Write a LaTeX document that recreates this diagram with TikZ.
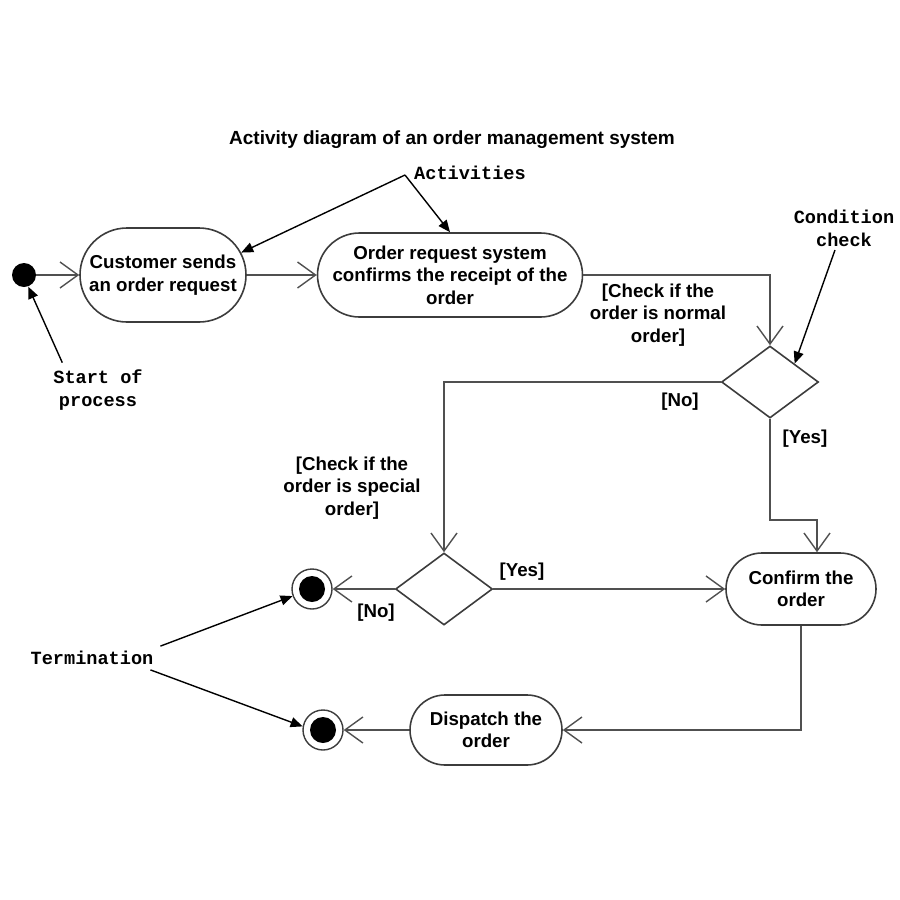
\documentclass[tikz,border=0pt]{standalone}
\usepackage{fontspec}
\setmainfont{Liberation Sans}
\setmonofont{Liberation Mono}
\usetikzlibrary{arrows.meta,shapes.geometric,shapes.misc}
\definecolor{flowgrey}{RGB}{80,80,80}
\definecolor{edgegrey}{RGB}{60,60,60}

\begin{document}
\begin{tikzpicture}[
    x=0.5pt,
    y=-0.5pt,
    activity/.style={
      rounded rectangle,
      draw=edgegrey,
      line width=0.8pt,
      align=center,
      inner sep=0pt,
      font=\fontsize{9.35}{11.3}\selectfont\bfseries
    },
    decision/.style={
      diamond,
      draw=edgegrey,
      line width=0.8pt,
      inner sep=0pt,
      minimum width=48.5pt,
      minimum height=36pt
    },
    finalnode/.style={
      circle,
      draw=edgegrey,
      line width=0.7pt,
      minimum size=20pt,
      inner sep=0pt,
      path picture={\fill (path picture bounding box.center) circle (6.5pt);}
    },
    guard/.style={
      align=center,
      font=\fontsize{9.35}{11.3}\selectfont\bfseries
    },
    remark/.style={
      align=center,
      font=\fontsize{9.3}{11.5}\selectfont\ttfamily\bfseries
    },
    flow/.style={
      draw=flowgrey,
      line width=0.8pt,
      -{Straight Barb[length=9pt,width=13pt,line width=0.7pt]}
    },
    pointer/.style={
      draw=black,
      line width=0.7pt,
      -{Triangle[length=6pt,width=5pt]}
    }
]
\useasboundingbox (0,0) rectangle (900,900);

% Title
\node[font=\fontsize{9.5}{11}\selectfont\bfseries] (title) at (452,140)
  {Activity diagram of an order management system};

% Activities and control nodes
\node[circle,fill=black,inner sep=0pt,minimum size=12pt] (start) at (24,275) {};
\node[activity,minimum width=83pt,minimum height=47pt] (cust) at (163,275)
  {Customer sends\\an order request};
\node[activity,minimum width=132.5pt,minimum height=42pt] (confirmreq) at (450,275)
  {Order request system\\confirms the receipt of the\\order};
\node[decision] (normal) at (770,382) {};
\node[decision] (special) at (444,589) {};
\node[activity,minimum width=75pt,minimum height=36pt] (confirm) at (801,589)
  {Confirm the\\order};
\node[activity,minimum width=76pt,minimum height=35pt] (dispatch) at (486,730)
  {Dispatch the\\order};
\node[finalnode] (end1) at (312,589) {};
\node[finalnode] (end2) at (323,730) {};

% Control flow
\coordinate (yesbend) at (817,520);
\draw[flow] (start) -- (cust);
\draw[flow] (cust) -- (confirmreq);
\draw[flow] (confirmreq.east) -| (normal.north);
\draw[flow] (normal.west) -| (special.north);
\draw[flow] (normal.south) |- (yesbend) -- (yesbend |- confirm.north);
\draw[flow] (special.west) -- (end1);
\draw[flow] (special.east) -- (confirm.west);
\draw[flow] (confirm.south) |- (dispatch.east);
\draw[flow] (dispatch.west) -- (end2);

% Guards
\node[guard] (normalq) at (658,315) {[Check if the\\order is normal\\order]};
\node[guard] (specialq) at (352,488) {[Check if the\\order is special\\order]};
\node[guard] (normalno) at (680,402) {[No]};
\node[guard] (normalyes) at (805,439) {[Yes]};
\node[guard] (specialyes) at (522,572) {[Yes]};
\node[guard] (specialno) at (376,613) {[No]};

% Annotations
\node[remark] (actlbl) at (470,173) {Activities};
\coordinate (actvertex) at (405,175);
\draw[pointer] (actvertex) -- (cust.16);
\draw[pointer] (actvertex) -- (confirmreq.north);

\node[remark] (condlbl) at (844,228) {Condition\\check};
\draw[pointer] (835,250) -- (normal.north east);

\node[remark] (startlbl) at (98,390) {Start of\\process};
\draw[pointer] ([xshift=8pt]startlbl.north west) -- (start.290);

\node[remark] (termlbl) at (92,658) {Termination};
\draw[pointer] ([yshift=-1pt]termlbl.north east) -- (end1.200);
\draw[pointer] ([xshift=-5pt,yshift=1pt]termlbl.south east) -- (end2.170);
\end{tikzpicture}
\end{document}
